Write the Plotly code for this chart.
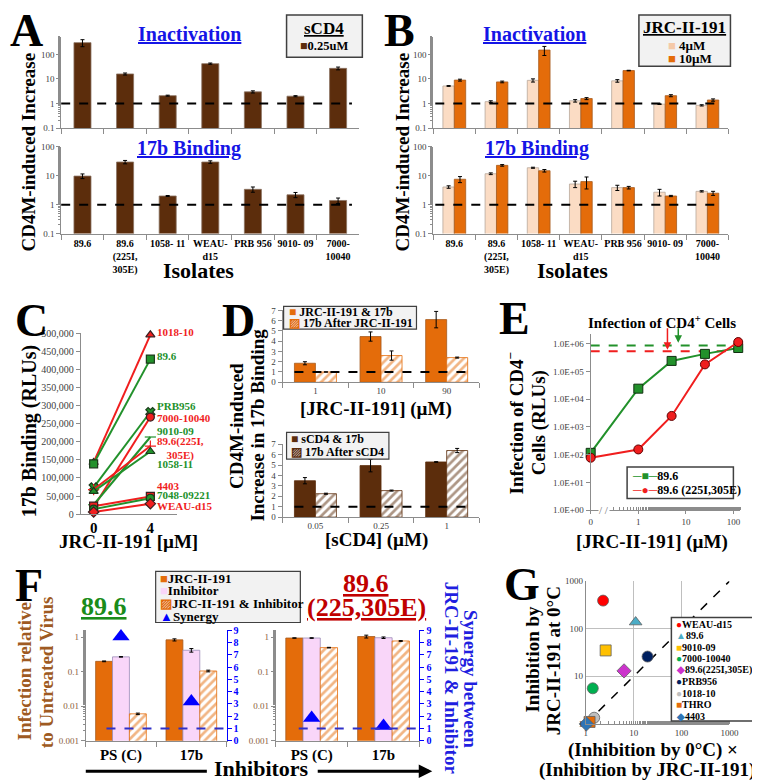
import plotly.graph_objects as go

# ======================= DATA =======================
# Panels A & B : isolates
isolates = ["89.6", "89.6 (225I,305E)", "1058-11", "WEAU-d15", "PRB 956", "9010-09", "7000-10040"]
isolate_ticktext = ["89.6", "89.6<br>(225I,<br>305E)", "1058- 11", "WEAU-<br>d15", "PRB 956", "9010- 09", "7000-<br>10040"]

# A : sCD4 0.25 uM
a_inactivation = [300, 16, 2.1, 42, 3.0, 2.0, 27]
a_inactivation_err = [95, 1.5, 0.1, 2.5, 0.3, 0.1, 3.5]
a_binding = [9.8, 30, 2.0, 30, 3.4, 2.2, 1.4]
a_binding_err = [1.8, 4, 0.08, 3, 0.7, 0.45, 0.3]

# B : JRC-II-191 4 uM / 10 uM
b_inact_4uM = [5.2, 1.2, 8.8, 1.3, 8.4, 0.95, 0.85]
b_inact_4uM_err = [0.2, 0.1, 1.3, 0.15, 1.0, 0.03, 0.05]
b_inact_10uM = [9.0, 7.6, 150, 1.6, 22, 2.1, 1.4]
b_inact_10uM_err = [0.8, 0.6, 60, 0.15, 0.6, 0.2, 0.15]
b_bind_4uM = [4.1, 11.8, 19, 5.2, 3.9, 2.7, 2.9]
b_bind_4uM_err = [0.4, 0.8, 0.8, 1.3, 0.8, 0.7, 0.15]
b_bind_10uM = [7.6, 23, 15, 6.3, 3.9, 2.0, 2.5]
b_bind_10uM_err = [1.8, 1.5, 1.5, 2.8, 0.4, 0.1, 0.4]

# C : 17b binding vs JRC-II-191
c_jrc_conc = [0, 4]
c_isolates = ["1018-10", "89.6", "PRB956", "7000-10040", "9010-09", "89.6(225I,305E)",
              "1058-11", "4403", "7048-09221", "WEAU-d15"]
c_rlu_0uM = [143000, 139000, 74000, 20000, 26000, 68000, 63000, 22000, 14000, 6000]
c_rlu_4uM = [495000, 428000, 282000, 268000, 213000, 188000, 173000, 49000, 44000, 29000]

# D
d_jrc_conc = ["1", "10", "90"]
d_jrc_with_17b = [1.85, 4.45, 6.1]
d_jrc_with_17b_err = [0.15, 0.45, 0.8]
d_17b_after_jrc = [1.0, 2.6, 2.4]
d_17b_after_jrc_err = [0.02, 0.45, 0.05]
d_scd4_conc = ["0.05", "0.25", "1"]
d_scd4_with_17b = [3.5, 4.95, 5.3]
d_scd4_with_17b_err = [0.3, 0.6, 0.03]
d_17b_after_scd4 = [2.25, 2.55, 6.4]
d_17b_after_scd4_err = [0.05, 0.05, 0.2]

# E : infection of CD4- cells
e_jrc_conc = [0, 1, 5, 25, 125]
e_rlu_896 = [117, 24000, 240000, 430000, 700000]
e_rlu_896_mut = [78, 155, 2500, 180000, 1150000]
e_cd4pos_896 = 870000
e_cd4pos_896_mut = 540000
e_zero_at = 0.1          # where "0" sits on the broken log axis

# F
f_inhibitors = ["PS (C)", "17b"]
f896_jrc = [0.2, 0.84]
f896_jrc_err = [0.005, 0.06]
f896_inh = [0.27, 0.42]
f896_inh_err = [0.005, 0.05]
f896_comb = [0.006, 0.105]
f896_comb_err = [0.0003, 0.006]
f896_synergy = [8.5, 3.2]
fmut_jrc = [0.95, 1.05]
fmut_jrc_err = [0.01, 0.1]
fmut_inh = [0.95, 0.97]
fmut_inh_err = [0.02, 0.05]
fmut_comb = [0.5, 0.78]
fmut_comb_err = [0.01, 0.02]
fmut_synergy = [1.85, 1.2]

# G
g_isolates = ["WEAU-d15", "89.6", "9010-09", "7000-10040", "89.6(225I,305E)", "PRB956", "1018-10", "THRO", "4403"]
g_combined = [2.3, 11, 2.6, 1.4, 6.3, 19.5, 1.5, 1.2, 1.03]
g_cold_jrc = [390, 138, 35, 5.6, 13, 26, 1.35, 1.1, 1.0]

# ======================= STYLE =======================
W, H = 760, 780
SERIF = "Liberation Serif"
BROWN = "#5C2D0C"
PEACH = "#FBDCC4"
ORANGE = "#E46C0A"
PINK = "#F9D6F9"
GREEN = "#22912B"
RED = "#F01E1E"
DARKRED = "#C00000"
TITLE_BLUE = "#1515E6"
BLUE = "#0000FF"
FBROWN = "#9E5A22"
AXIS = "#8C8C8C"
TICK_FONT = dict(family=SERIF, size=9, color="#404040")

c_colors = [RED, GREEN, GREEN, RED, GREEN, RED, GREEN, RED, GREEN, RED]
c_symbols = ["triangle-up", "square", "x", "circle", "line-ew-open", "cross-thin-open",
             "triangle-up", "square", "circle", "diamond"]
c_label_text = ["1018-10", "89.6", "PRB956", "7000-10040", "9010-09", "89.6(225I,<br>305E)",
                "1058-11", "4403", "7048-09221", "WEAU-d15"]
c_label_py = [323, 347, 398, 410, 424, 441, 457, 479, 489, 500]

g_colors = ["#FF0000", "#4BACC6", "#FFC000", "#00B050", "#CC33CC", "#002060", "#BFBFBF", "#E46C0A", "#2E75B6"]
g_symbols = ["circle", "triangle-up", "square", "circle", "diamond", "circle", "circle", "square", "diamond"]
g_glyph = {"circle": "●", "triangle-up": "▲", "square": "■", "diamond": "◆"}

def fx(p): return p / W
def fy(p): return 1 - p / H

def xr(i): return "x" if i == 1 else f"x{i}"
def yr(i): return "y" if i == 1 else f"y{i}"
def xn(i): return "xaxis" if i == 1 else f"xaxis{i}"
def yn(i): return "yaxis" if i == 1 else f"yaxis{i}"

fig = go.Figure()
axes = {}
annotations = []
shapes = []

def cat_x(a, b, anchor, tickvals=None, ticktext=None, tickfont=None, showlabels=True):
    ax = dict(domain=[fx(a), fx(b)], anchor=anchor, type="category", showline=True, linecolor=AXIS,
              linewidth=1, ticks="outside", ticklen=5, tickcolor=AXIS, tickson="boundaries",
              showgrid=False, zeroline=False, showticklabels=showlabels, tickangle=0,
              tickfont=tickfont or TICK_FONT, fixedrange=True)
    if tickvals is not None:
        ax.update(tickmode="array", tickvals=tickvals, ticktext=ticktext)
    return ax

def log_y(top, bottom, anchor, rng, vals, texts, font=None, color=AXIS, minor=True):
    ax = dict(domain=[fy(bottom), fy(top)], anchor=anchor, type="log", range=rng, tickmode="array",
              tickvals=vals, ticktext=texts, showline=True, linecolor=color, ticks="outside", ticklen=4,
              tickcolor=color, tickfont=font or TICK_FONT, showgrid=False, zeroline=False, fixedrange=True)
    if minor:
        ax["minor"] = dict(ticks="outside", ticklen=2, tickcolor=color, showgrid=False)
    return ax

def lin_y(top, bottom, anchor, rng, dtick, font=None, color=AXIS, **kw):
    ax = dict(domain=[fy(bottom), fy(top)], anchor=anchor, range=rng, dtick=dtick, showline=True,
              linecolor=color, ticks="outside", ticklen=4, tickcolor=color, tickfont=font or TICK_FONT,
              showgrid=False, zeroline=False, fixedrange=True)
    ax.update(kw)
    return ax

def err(arr):
    return dict(type="data", array=arr, color="black", thickness=1, width=2)

def bar(x, y, e, i, width, offset=None, color=BROWN, line=None, hatch=False, ya=None):
    marker = dict(color=color, line=dict(color=line or color, width=0.8))
    if hatch:
        marker["pattern"] = dict(shape="/", fgcolor=color, bgcolor="white", size=6, solidity=0.45)
    kw = dict(x=x, y=y, xaxis=xr(i), yaxis=ya or yr(i), width=width, error_y=err(e), marker=marker)
    if offset is not None:
        kw["offset"] = offset
    fig.add_trace(go.Bar(**kw))

def text(x, y, s, size, color="black", xanchor="center", angle=0, bold=True, **kw):
    annotations.append(dict(xref="paper", yref="paper", x=fx(x), y=fy(y), text=s, showarrow=False,
                            xanchor=xanchor, yanchor="middle", textangle=angle,
                            font=dict(family=SERIF, size=size, color=color,
                                      weight="bold" if bold else "normal"), **kw))

def rect(x0, y0, x1, y1, fill, line="#404040", lw=1.5):
    shapes.append(dict(type="rect", xref="paper", yref="paper", x0=fx(x0), x1=fx(x1), y0=fy(y1),
                       y1=fy(y0), fillcolor=fill, line=dict(color=line, width=lw), layer="above"))

def hline(i, y, f0, f1, color="black", width=2, yref=None):
    shapes.append(dict(type="line", xref=f"{xr(i)} domain", yref=yref or yr(i), x0=f0, x1=f1, y0=y, y1=y,
                       line=dict(color=color, width=width, dash="dash"), layer="above"))

def sw(color, ch="■"):
    return f'<span style="color:{color}">{ch}</span>'

LOG_VALS = [0.1, 1, 10, 100]
LOG_TXT = ["0.1", "1", "10", "100"]
ISO_FONT = dict(family=SERIF, size=10, color="black", weight="bold")

# ======================= PANEL A =======================
axes[xn(1)] = cat_x(52, 355, yr(1), showlabels=False)
axes[yn(1)] = log_y(23, 116, xr(1), [-1, 2.72], LOG_VALS, LOG_TXT)
axes[xn(2)] = cat_x(52, 355, yr(2), isolates, isolate_ticktext, ISO_FONT)
axes[yn(2)] = log_y(135, 223, xr(2), [-1, 2], LOG_VALS, LOG_TXT)
bar(isolates, a_inactivation, a_inactivation_err, 1, 0.4, color=BROWN, line="#8a7262")
bar(isolates, a_binding, a_binding_err, 2, 0.4, color=BROWN, line="#8a7262")
hline(1, 1, 0.0, 0.975)
hline(2, 1, 0.0, 0.975)

# ======================= PANEL B =======================
axes[xn(3)] = cat_x(430, 730, yr(3), showlabels=False)
axes[yn(3)] = log_y(23, 116, xr(3), [-1, 2.72], LOG_VALS, LOG_TXT)
axes[xn(4)] = cat_x(430, 730, yr(4), isolates, isolate_ticktext, ISO_FONT)
axes[yn(4)] = log_y(135, 223, xr(4), [-1, 2], LOG_VALS, LOG_TXT)
bar(isolates, b_inact_4uM, b_inact_4uM_err, 3, 0.27, offset=-0.27, color=PEACH, line="#B8A89C")
bar(isolates, b_inact_10uM, b_inact_10uM_err, 3, 0.27, offset=0, color=ORANGE, line="#A65A1E")
bar(isolates, b_bind_4uM, b_bind_4uM_err, 4, 0.27, offset=-0.27, color=PEACH, line="#B8A89C")
bar(isolates, b_bind_10uM, b_bind_10uM_err, 4, 0.27, offset=0, color=ORANGE, line="#A65A1E")
hline(3, 1, 0.007, 0.973)
hline(4, 1, 0.007, 0.973)

# ======================= PANEL C =======================
axes[xn(5)] = dict(domain=[fx(72), fx(170)], anchor=yr(5), range=[-0.9, 5.9], tickmode="array",
                   tickvals=c_jrc_conc, ticktext=[str(v) for v in c_jrc_conc], showline=True,
                   linecolor=AXIS, ticks="", showgrid=False, zeroline=False, fixedrange=True,
                   tickfont=dict(family=SERIF, size=15, color="black", weight="bold"))
axes[yn(5)] = lin_y(324, 508, xr(5), [0, 500000], 50000, tickformat=",",
                    font=dict(family=SERIF, size=10, color="#404040"))
for name, v0, v4, col, sym in zip(c_isolates, c_rlu_0uM, c_rlu_4uM, c_colors, c_symbols):
    fig.add_trace(go.Scatter(x=c_jrc_conc, y=[v0, v4], xaxis=xr(5), yaxis=yr(5), mode="lines+markers",
                             name=name, cliponaxis=False, line=dict(color=col, width=2),
                             marker=dict(symbol=sym, size=8, color=col,
                                         line=dict(color="#3a2020" if col == RED else "#1a3a1a", width=1.2))))
for lbl, py, col in zip(c_label_text, c_label_py, c_colors):
    text(147, py, lbl, 11, color=col, xanchor="left")

# ======================= PANEL D =======================
axes[xn(6)] = cat_x(277, 477, yr(6))
axes[yn(6)] = lin_y(301, 374, xr(6), [0, 7], 1)
axes[xn(7)] = cat_x(277, 477, yr(7))
axes[yn(7)] = lin_y(437, 511, xr(7), [0, 7], 1)
bar(d_jrc_conc, d_jrc_with_17b, d_jrc_with_17b_err, 6, 0.32, offset=-0.32, color=ORANGE, line="#A65A1E")
bar(d_jrc_conc, d_17b_after_jrc, d_17b_after_jrc_err, 6, 0.32, offset=0, color=ORANGE, hatch=True)
bar(d_scd4_conc, d_scd4_with_17b, d_scd4_with_17b_err, 7, 0.32, offset=-0.32, color=BROWN)
bar(d_scd4_conc, d_17b_after_scd4, d_17b_after_scd4_err, 7, 0.32, offset=0, color=BROWN, hatch=True)
hline(6, 1, 0.06, 0.94)
hline(7, 1, 0.06, 0.935)

# ======================= PANEL E =======================
e_x = [c if c > 0 else e_zero_at for c in e_jrc_conc]
axes[xn(8)] = dict(domain=[fx(590), fx(742)], anchor=yr(8), type="log", range=[-1, 2.14],
                   tickmode="array", tickvals=[e_zero_at, 1, 10, 100], ticktext=["0", "1", "10", "100"],
                   showline=True, linecolor=AXIS, ticks="outside", ticklen=3, tickcolor=AXIS,
                   tickfont=TICK_FONT, showgrid=False, zeroline=False, fixedrange=True,
                   minor=dict(ticks="inside", ticklen=3, tickcolor=AXIS, showgrid=False))
axes[yn(8)] = log_y(325, 504, xr(8), [0, 6.35], [10 ** k for k in range(7)],
                    ["1.0E+0%d" % k for k in range(7)], minor=False)
fig.add_trace(go.Scatter(x=[e_x[0], e_x[-1]], y=[e_cd4pos_896] * 2, xaxis=xr(8), yaxis=yr(8), mode="lines",
                         line=dict(color=GREEN, width=2, dash="dash")))
fig.add_trace(go.Scatter(x=[e_x[0], e_x[-1]], y=[e_cd4pos_896_mut] * 2, xaxis=xr(8), yaxis=yr(8),
                         mode="lines", line=dict(color=RED, width=2, dash="dash")))
fig.add_trace(go.Scatter(x=e_x, y=e_rlu_896, xaxis=xr(8), yaxis=yr(8), mode="lines+markers", cliponaxis=False,
                         line=dict(color=GREEN, width=2),
                         marker=dict(symbol="square", size=9, color=GREEN, line=dict(color="#103010", width=1))))
fig.add_trace(go.Scatter(x=e_x, y=e_rlu_896_mut, xaxis=xr(8), yaxis=yr(8), mode="lines+markers",
                         cliponaxis=False, line=dict(color=RED, width=2),
                         marker=dict(symbol="circle", size=9, color=RED, line=dict(color="#600000", width=1))))

# ======================= PANEL F =======================
F_LEFT_FONT = dict(family=SERIF, size=9, color="#8B5E3C")
F_RIGHT_FONT = dict(family=SERIF, size=10, color=BLUE, weight="bold")
F_CAT_FONT = dict(family=SERIF, size=15, color="black", weight="bold")
F_LOG = [0.001, 0.01, 0.1, 1]
F_LOG_TXT = ["0.001", "0.01", "0.1", "1"]
for xi, ylog, ysyn, (x0, x1) in [(9, 9, 10, (77, 220)), (10, 11, 12, (270, 416))]:
    axes[xn(xi)] = cat_x(x0, x1, yr(ylog), tickfont=F_CAT_FONT)
    axes[yn(ylog)] = log_y(626, 738, xr(xi), [-3, 0.2], F_LOG, F_LOG_TXT, font=F_LEFT_FONT)
    axes[yn(ysyn)] = lin_y(626, 738, xr(xi), [0, 9], 1, font=F_RIGHT_FONT, color=BLUE,
                           overlaying=yr(ylog), side="right")

for xi, ylog, ysyn, jrc, jrce, inh, inhe, comb, combe, syn in [
        (9, 9, 10, f896_jrc, f896_jrc_err, f896_inh, f896_inh_err, f896_comb, f896_comb_err, f896_synergy),
        (10, 11, 12, fmut_jrc, fmut_jrc_err, fmut_inh, fmut_inh_err, fmut_comb, fmut_comb_err, fmut_synergy)]:
    bar(f_inhibitors, jrc, jrce, xi, 0.24, offset=-0.36, color=ORANGE, line="#A65A1E", ya=yr(ylog))
    bar(f_inhibitors, inh, inhe, xi, 0.24, offset=-0.12, color=PINK, line="#9A8DB8", ya=yr(ylog))
    bar(f_inhibitors, comb, combe, xi, 0.24, offset=0.12, color=ORANGE, hatch=True, ya=yr(ylog))
    fig.add_trace(go.Scatter(x=f_inhibitors, y=syn, xaxis=xr(xi), yaxis=yr(ysyn), mode="markers",
                             cliponaxis=False, marker=dict(symbol="triangle-up", size=15, color=BLUE)))
hline(9, 1, 0.147, 1.0, color="#3030C8", yref=yr(10))
hline(10, 1, 0.16, 1.0, color="#3030C8", yref=yr(12))

# ======================= PANEL G =======================
G_FONT = dict(family=SERIF, size=9, color="#404040")
axes[xn(11)] = dict(domain=[fx(585), fx(731)], anchor=yr(13), type="log", range=[0, 3], tickmode="array",
                    tickvals=[1, 10, 100, 1000], ticktext=["1", "10", "100", "1000"], showline=True,
                    linecolor=AXIS, showgrid=True, gridcolor="#BFBFBF", zeroline=False, ticks="",
                    tickfont=G_FONT, fixedrange=True,
                    minor=dict(ticks="inside", ticklen=3, tickcolor=AXIS, showgrid=False))
axes[yn(13)] = dict(domain=[fy(721), fy(576)], anchor=xr(11), type="log", range=[0, 3], tickmode="array",
                    tickvals=[1, 10, 100, 1000], ticktext=["1", "10", "100", "1000"], showline=True,
                    linecolor=AXIS, showgrid=True, gridcolor="#BFBFBF", zeroline=False, ticks="",
                    tickfont=G_FONT, fixedrange=True)
fig.add_trace(go.Scatter(x=[1, 1000], y=[1, 1000], xaxis=xr(11), yaxis=yr(13), mode="lines",
                         line=dict(color="black", width=1.5, dash="dash")))
for name, gx, gy, col, sym in zip(g_isolates, g_combined, g_cold_jrc, g_colors, g_symbols):
    fig.add_trace(go.Scatter(x=[gx], y=[gy], xaxis=xr(11), yaxis=yr(13), mode="markers", name=name,
                             cliponaxis=False,
                             marker=dict(symbol=sym, size=11, color=col, line=dict(color="#606060", width=0.8))))

# ======================= TEXT / LEGENDS =======================
for L, x, y in [("A", 17, 17), ("B", 396, 17), ("C", 22, 311), ("D", 232, 311), ("E", 513, 309),
                ("F", 19, 580), ("G", 520, 579)]:
    text(x, y, L, 46)

# A / B
for cx, cb in [(182, 182), (533, 535)]:
    text(cx, 20, "<u>Inactivation</u>", 20, color=TITLE_BLUE)
    text(cb, 137, "<u>17b Binding</u>", 20, color=TITLE_BLUE)
text(19, 140, "CD4M-induced Increase", 19, angle=-90)
text(399, 140, "CD4M-induced Increase", 19, angle=-90)
text(192, 261, "Isolates", 22)
text(572, 261, "Isolates", 22)
rect(281, 1, 358, 44, "#F2F2F2")
text(319.5, 15, "<u>sCD4</u>", 17)
text(319.5, 33, sw(BROWN) + "0.25uM", 12.5)
rect(639, 1, 732, 53, "#F2F2F2")
text(685.5, 14, "<u>JRC-II-191</u>", 17)
text(667, 32, sw("#F5C9A8") + " 4µM", 13, xanchor="left")
text(667, 45, sw(ORANGE) + " 10µM", 13, xanchor="left")

# C
text(20, 424, "17b Binding (RLUs)", 20, angle=-90)
text(120, 536, "JRC-II-191 [µM]", 19)

# D
text(230, 418, "CD4M-induced", 19, angle=-90)
text(252, 418, "Increase in 17b Binding", 19, angle=-90)
text(372, 401, "[JRC-II-191] (µM)", 19)
text(372, 534, "[sCD4] (µM)", 19)
rect(278, 297, 413, 320, "#F2F2F2", lw=1.2)
text(281, 303, sw(ORANGE) + " JRC-II-191 & 17b", 12, xanchor="left")
text(281, 314, sw(ORANGE, "▨") + " 17b After JRC-II-191", 12, xanchor="left")
rect(281, 425, 385, 452, "#F2F2F2", lw=1.2)
text(283, 432, sw(BROWN) + " sCD4 & 17b", 12, xanchor="left")
text(283, 445, sw(BROWN, "▨") + " 17b After sCD4", 12, xanchor="left")

# E
text(662, 313, "Infection of CD4<sup>+</sup> Cells", 15)
text(513, 415, "Infection of CD4<sup>−</sup>", 19, angle=-90)
text(537, 415, "Cells (RLUs)", 19, angle=-90)
text(652, 536, "[JRC-II-191] (µM)", 19)
text(604, 504, "/ /", 11, color="#707070", bold=False, bgcolor="white", borderpad=0)
annotations.append(dict(xref="paper", yref="paper", x=fx(668), y=fy(341), ax=0, ay=-23, text="",
                        showarrow=True, arrowhead=2, arrowsize=1, arrowwidth=1.5, arrowcolor=RED))
annotations.append(dict(xref="paper", yref="paper", x=fx(679), y=fy(334), ax=0, ay=-16, text="",
                        showarrow=True, arrowhead=2, arrowsize=1, arrowwidth=1.5, arrowcolor=GREEN))
rect(627, 460, 735, 492, "white")
text(630, 469, sw(GREEN, "─■─") + "89.6", 12, xanchor="left")
text(630, 483, sw(RED, "─●─") + "89.6 (225I,305E)", 12, xanchor="left")

# F
text(96, 602, "<u>89.6</u>", 26, color="#1A8C1A")
text(362, 578, "<u>89.6</u>", 26, color=DARKRED)
text(362, 603, "<u>(225,305E)</u>", 26, color=DARKRED)
text(15, 668, "Infection relative", 19, color=FBROWN, angle=-90)
text(37, 668, "to Untreated Virus", 19, color=FBROWN, angle=-90)
text(468, 675, "Synergy between", 19, color="#1F1FE0", angle=90)
text(448, 675, "JRC-II-191 & Inhibitor", 19, color="#1F1FE0", angle=90)
text(256, 766, "Inhibitors", 22)
shapes.append(dict(type="line", xref="paper", yref="paper", x0=fx(77), x1=fx(200), y0=fy(769), y1=fy(769),
                   line=dict(color="black", width=3)))
annotations.append(dict(xref="paper", yref="paper", x=fx(429), y=fy(769), ax=-116, ay=0, text="",
                        showarrow=True, arrowhead=2, arrowsize=0.9, arrowwidth=3, arrowcolor="black"))
rect(148, 566, 295, 618, "#F2F2F2", lw=1.2)
text(150, 573, sw(ORANGE) + "JRC-II-191", 13, xanchor="left")
text(150, 586, sw(PINK) + "Inhibitor", 13, xanchor="left")
text(150, 599, sw(ORANGE, "▨") + "JRC-II-191 & Inhibitor", 13, xanchor="left")
text(150, 612, sw(BLUE, "▲") + "Synergy", 13, xanchor="left")

# G
text(531, 655, "Inhibition by", 19, angle=-90)
text(553, 657, "JRC-II-191 at 0°C", 19, angle=-90)
text(653, 747, "(Inhibition by 0°C) ×", 19)
text(647, 768, "(Inhibition by JRC-II-191)", 19)
rect(672, 613, 759, 718, "white")
for k, (name, col, sym) in enumerate(zip(g_isolates, g_colors, g_symbols)):
    text(675, 620 + k * 11.66, sw(col, g_glyph[sym]) + name, 10, xanchor="left")

fig.update_layout(width=W, height=H, margin=dict(l=0, r=0, t=0, b=0), paper_bgcolor="white",
                  plot_bgcolor="white", showlegend=False, barmode="overlay",
                  font=dict(family=SERIF, size=10, color="black"),
                  annotations=annotations, shapes=shapes, **axes)
fig.write_html("out.html")
